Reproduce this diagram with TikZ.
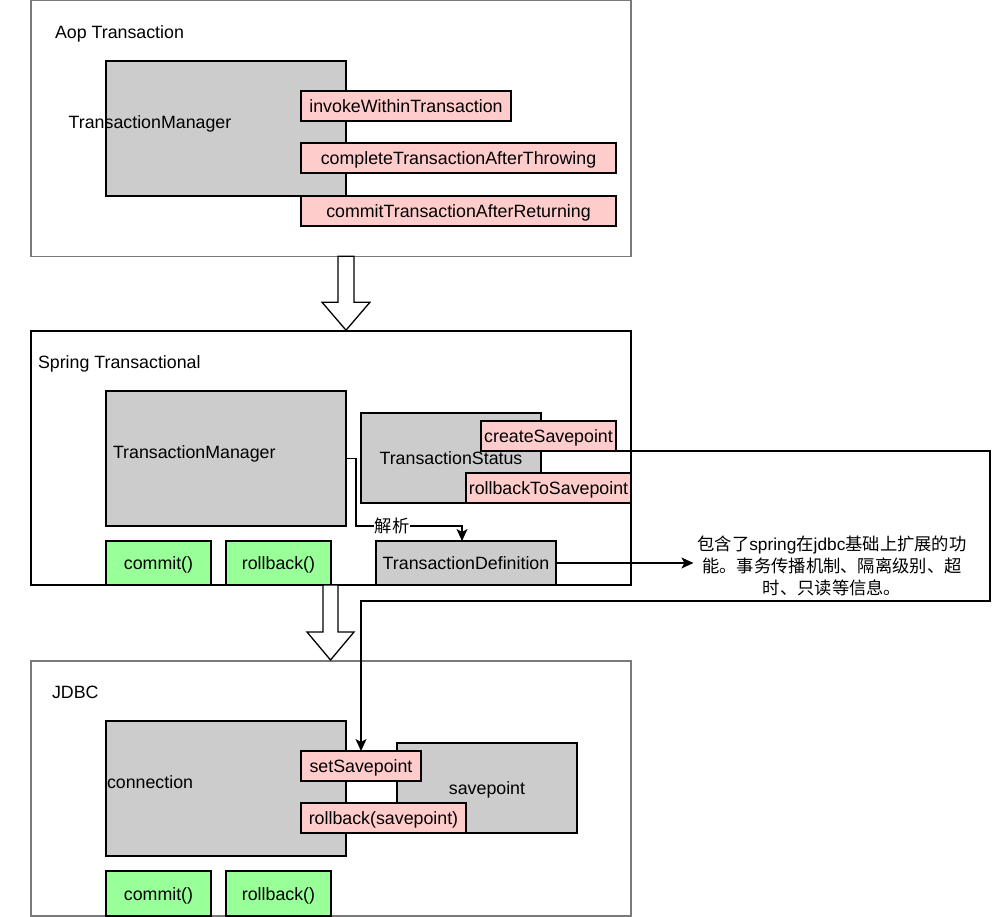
\documentclass[tikz,border=0pt]{standalone}
\usepackage{fontspec}
\setmainfont{Liberation Sans}
\newfontfamily\cjk{Noto Sans CJK SC}
\usetikzlibrary{calc,arrows.meta}
\definecolor{boxgray}{HTML}{CCCCCC}
\definecolor{pinkfill}{HTML}{FFCCCC}
\definecolor{greenfill}{HTML}{99FF99}
\definecolor{framegray}{HTML}{7A7A7A}
\begin{document}
\begin{tikzpicture}[x=1pt,y=-1pt,
  every node/.style={font=\fontsize{17.8}{22}\selectfont, inner sep=0pt, outer sep=0pt,
    text height=17.5pt, text depth=4.5pt},
  layer/.style={draw=#1, line width=1.2pt, fill=white, anchor=north west},
  graybox/.style={draw=black, fill=boxgray, line width=1.3pt, anchor=north west},
  pinkbox/.style={draw=black, fill=pinkfill, line width=1.3pt, anchor=north west},
  greenbox/.style={draw=black, fill=greenfill, line width=1.3pt, anchor=north west},
  caption/.style={anchor=west},
  conn/.style={line width=1.3pt, -{Stealth[length=12pt,width=11pt,inset=3pt]}},
  blockarrow/.style={draw=black, fill=white, line width=1.3pt, line join=miter}
]
\fill[white] (0,0) rectangle (1004,917);
\useasboundingbox (0,0) rectangle (1004,917);

% ---------- Aop Transaction layer ----------
\node[layer=framegray, minimum width=600, minimum height=255.5] (fA) at (31,0.7) {};
\node[caption] (capA) at (55,32) {Aop Transaction};
\node[graybox, minimum width=240, minimum height=135] (tmA) at (106,61) {};
\node (tmAlbl) at (150,122) {TransactionManager};
\node[pinkbox, minimum width=210, minimum height=30] (invoke) at (301,91) {invokeWithinTransaction};
\node[pinkbox, minimum width=315, minimum height=30] (afterThrow) at (301,143) {completeTransactionAfterThrowing};
\node[pinkbox, minimum width=315, minimum height=30] (afterReturn) at (301,196) {commitTransactionAfterReturning};

% ---------- Spring Transactional layer ----------
\node[layer=black, minimum width=600, minimum height=254] (fB) at (31,331) {};
\node[caption] (capB) at (38,362) {Spring Transactional};
\node[graybox, minimum width=240, minimum height=135] (tmB) at (106,391) {};
\node[caption] (tmBlbl) at (113,452) {TransactionManager};
\node[greenbox, minimum width=105, minimum height=44] (commitB) at (106,541) {commit()};
\node[greenbox, minimum width=105, minimum height=44] (rollbackB) at (226,541) {rollback()};
\node[graybox, minimum width=180, minimum height=90] (status) at (361,413) {TransactionStatus};
\node[pinkbox, minimum width=135, minimum height=30] (createSp) at (481,421) {createSavepoint};
\node[pinkbox, minimum width=165, minimum height=30] (rollbackToSp) at (466,473) {rollbackToSavepoint};
\node[graybox, minimum width=180, minimum height=44] (definition) at (376,541) {TransactionDefinition};

\node[align=center, outer sep=4pt, text height=, text depth=, font=\fontsize{17.3}{22}\selectfont] (desc) at (832,566)
  {{\cjk 包含了}spring{\cjk 在}jdbc{\cjk 基础上扩展的功}\\
   {\cjk 能。事务传播机制、隔离级别、超}\\
   {\cjk 时、只读等信息。}};

% ---------- JDBC layer ----------
\node[layer=framegray, minimum width=600, minimum height=255] (fC) at (31,661) {};
\node[caption] (capC) at (52,692) {JDBC};
\node[graybox, minimum width=240, minimum height=135] (conn) at (106,721) {};
\node[caption] (connlbl) at (107,782) {connection};
\node[greenbox, minimum width=105, minimum height=45] (commitC) at (106,871) {commit()};
\node[greenbox, minimum width=105, minimum height=45] (rollbackC) at (226,871) {rollback()};
\node[graybox, minimum width=180, minimum height=90] (savepoint) at (397,743) {savepoint};
\node[pinkbox, minimum width=120, minimum height=30] (setSp) at (301,751) {setSavepoint};
\node[pinkbox, minimum width=165, minimum height=30] (rollbackSp) at (301,803) {rollback(savepoint)};

% ---------- block arrows between layers ----------
\coordinate (downA) at ($(fA.south)+(15,0)$);
\draw[blockarrow] (downA) ++(-8,0) -- ++(0,46) -- ++(-16,0) -- ++(24,28)
  -- ++(24,-28) -- ++(-16,0) -- ++(0,-46) -- cycle;
\coordinate (downB) at ($(fB.south)+(-0.5,0)$);
\draw[blockarrow] (downB) ++(-7.5,0) -- ++(0,47) -- ++(-16,0) -- ++(23.5,28)
  -- ++(23.5,-28) -- ++(-16,0) -- ++(0,-47) -- cycle;

% ---------- connectors ----------
\coordinate (parseTurn) at (462,526);
\draw[conn] (tmB.east) -- ++(10,0) |- node[pos=0.67, fill=white, inner xsep=1pt,
  text height=, text depth=, font=\cjk\fontsize{17.3}{20}\selectfont] (parseLbl) {解析} (parseTurn) -- (parseTurn |- definition.north);

\draw[conn] (definition.east) -- (desc.west |- definition.east);

\coordinate (spTurn) at (990,601);
\draw[conn] (createSp.south east) -| (spTurn) -| (setSp.north);
\end{tikzpicture}
\end{document}
